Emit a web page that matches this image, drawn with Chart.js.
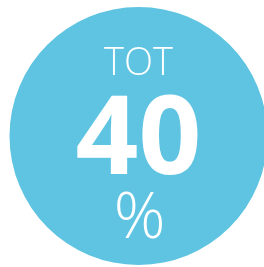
<!DOCTYPE html>
<html>
<head>
<meta charset="utf-8">
<script src="https://cdn.jsdelivr.net/npm/chart.js@4"></script>
<style>
html,body{margin:0;padding:0;background:#fff;overflow:hidden;width:264px;height:267px;}
#wrap{position:absolute;left:0;top:0;width:280px;height:267px;}
</style>
</head>
<body>
<div id="wrap"><canvas id="c"></canvas></div>
<script>
const categories = ["TOT"];
const values = [40];
const fullCircle = [100];
const unitLabel = "%";
const circleColor = "#5EC4E1";

const centerText = {
  id: 'centerText',
  afterDraw(chart) {
    const arc = chart.getDatasetMeta(0).data[0];
    const ctx = chart.ctx;
    const cx = arc.x, cy = arc.y;
    ctx.save();
    ctx.fillStyle = '#ffffff';
    ctx.textAlign = 'center';
    ctx.textBaseline = 'alphabetic';
    ctx.font = '300 38px "Open Sans"';
    ctx.fillText(categories[0], cx, cy - 61);
    ctx.font = 'bold 110px "Open Sans"';
    ctx.fillText(String(values[0]), cx, cy + 38);
    ctx.font = '300 64px "Open Sans"';
    ctx.fillText(unitLabel, cx + 1, cy + 102);
    ctx.restore();
  }
};

new Chart(document.getElementById('c'), {
  type: 'pie',
  data: {
    labels: categories,
    datasets: [{
      data: fullCircle,
      backgroundColor: [circleColor],
      borderWidth: 0,
      hoverOffset: 0
    }]
  },
  options: {
    responsive: true,
    maintainAspectRatio: false,
    animation: false,
    layout: { padding: { left: 9, top: 7, right: 12, bottom: 2 } },
    plugins: { legend: { display: false }, tooltip: { enabled: false } },
    events: []
  },
  plugins: [centerText]
});
</script>
</body>
</html>
